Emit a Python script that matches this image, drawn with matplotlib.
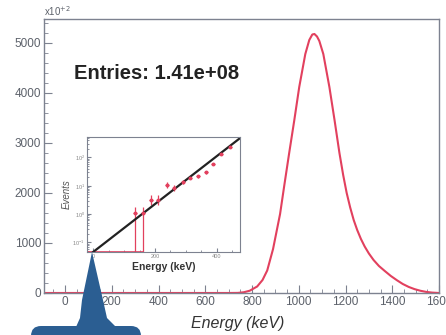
import numpy as np
import matplotlib.pyplot as plt
from matplotlib.ticker import MultipleLocator, LogLocator, NullFormatter
from matplotlib.patches import Polygon, FancyBboxPatch

plt.rcParams['font.family'] = ['Liberation Sans', 'DejaVu Sans']

# Main spectrum (counts in units of 1e2)
energy = [-90, 700, 740, 765, 790, 822, 845, 865, 890, 920, 938, 959, 981,
          1002, 1028, 1045, 1058, 1067, 1078, 1088, 1105, 1131, 1153, 1174,
          1190, 1205, 1220, 1235, 1250, 1266, 1282, 1300, 1320, 1343, 1368,
          1394, 1420, 1445, 1471, 1495, 1520, 1545, 1570, 1600]
counts = [0, 0, 2, 15, 45, 130, 260, 450, 880, 1580, 2150, 2800, 3460,
          4120, 4780, 5060, 5170, 5180, 5130, 5040, 4780, 4120, 3460, 2800,
          2360, 2000, 1710, 1460, 1260, 1080, 930, 790, 660, 540, 440,
          340, 255, 180, 120, 78, 45, 22, 8, 0]

# Low-energy region (inset, log scale)
ins_e = [135, 161, 187, 210, 239, 261, 290, 313, 339, 365, 387, 413, 442]
ins_n = [1.08, 1.08, 3.1, 3.1, 10.6, 8.3, 13.5, 18.7, 22, 30, 58, 132, 234]
ins_err_lo = [1.07, 1.07, 1.0, 1.0, 2.0, 1.5, 2.0, 2.0, 2.5, 3.0, 5.0, 8.0, 10.0]
ins_err_hi = [0.7, 0.7, 1.6, 1.6, 2.5, 2.0, 2.5, 2.5, 3.0, 3.0, 6.0, 10.0, 12.0]
fit_e = [0, 475]
fit_n = [0.046, 480]

entries = "1.41e+08"

red = '#e2405e'
frame = '#7d8290'
lab = '#5c616a'

fig = plt.figure(figsize=(4.46, 3.35), dpi=100)

ax = fig.add_axes([0.0987, 0.1254, 0.8856, 0.8179])
ax.plot(energy, counts, color=red, lw=1.5, solid_joinstyle='round')
ax.set_xlim(-90, 1600)
ax.set_ylim(0, 5480)
ax.xaxis.set_major_locator(MultipleLocator(200))
ax.xaxis.set_minor_locator(MultipleLocator(50))
ax.yaxis.set_major_locator(MultipleLocator(1000))
ax.yaxis.set_minor_locator(MultipleLocator(200))
ax.tick_params(which='both', direction='in', color=frame, labelcolor=lab,
               labelsize=8.5, top=False, right=False)
ax.tick_params(which='major', length=6, pad=2)
ax.tick_params(which='minor', length=3)
for s in ax.spines.values():
    s.set_color(frame)
    s.set_linewidth(1.0)
ax.set_xlabel('Energy (keV)', fontsize=11.5, style='italic', color='#333',
              labelpad=1)
ax.xaxis.set_label_coords(0.49, -0.085)
ax.text(0.0, 1.005, r'x10$^{+2}$', transform=ax.transAxes, fontsize=7,
        color=lab, va='bottom', ha='left')
ax.text(0.077, 0.80, 'Entries: ' + entries, transform=ax.transAxes,
        fontsize=14.5, fontweight='bold', color='#222', va='center')

# Inset: low-energy part on log scale
ins = fig.add_axes([0.195, 0.2478, 0.343, 0.343])
ins.set_yscale('log')
ins.set_xlim(-20, 475)
ins.set_ylim(0.046, 525)
ins.hlines(0.0475, -20, 161, color=red, lw=1.2)
ins.errorbar(ins_e, ins_n, yerr=[ins_err_lo, ins_err_hi], xerr=6, fmt='o',
             ms=1.8, color=red, ecolor=red, elinewidth=0.9, capsize=0)
ins.plot(fit_e, fit_n, color='#222', lw=1.6)
ins.xaxis.set_major_locator(MultipleLocator(200))
ins.xaxis.set_minor_locator(MultipleLocator(50))
ins.yaxis.set_major_locator(LogLocator(base=10))
ins.yaxis.set_minor_formatter(NullFormatter())
ins.tick_params(which='both', direction='in', color=frame, labelcolor='#888',
                labelsize=4, top=False, right=False, pad=1.5)
ins.tick_params(which='major', length=3)
ins.tick_params(which='minor', length=1.5)
for s in ins.spines.values():
    s.set_color(frame)
    s.set_linewidth(0.8)
ins.set_xlabel('Energy (keV)', fontsize=7.5, fontweight='bold', color='#333',
               labelpad=2)
ins.set_ylabel('Events', fontsize=7, style='italic', color='#555', labelpad=0.5)

# Blue callout pointing at the inset origin
ov = fig.add_axes([0, 0, 1, 1], zorder=10)
ov.set_xlim(0, 446)
ov.set_ylim(335, 0)
ov.axis('off')
ov.patch.set_alpha(0)
callout = '#2b5e92'
ov.add_patch(Polygon([(92, 252), (103, 300), (107, 318), (116, 327),
                      (76, 327), (80, 318), (82, 300)],
                     closed=True, color=callout, lw=0))
ov.add_patch(FancyBboxPatch((31, 326), 110, 20,
                            boxstyle='round,pad=0,rounding_size=10',
                            color=callout, lw=0))

fig.savefig('out.png', dpi=100)
